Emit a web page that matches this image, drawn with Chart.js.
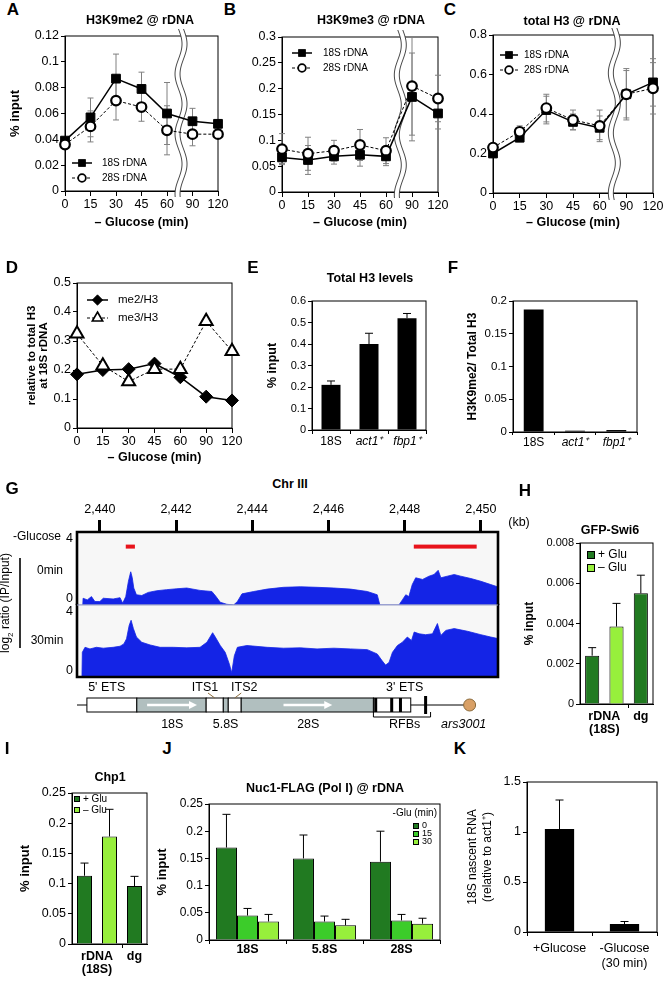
<!DOCTYPE html>
<html>
<head>
<meta charset="utf-8">
<title>rDNA heterochromatin and glucose starvation</title>
<script src="https://cdn.jsdelivr.net/npm/chart.js@4.4.1/dist/chart.umd.min.js"></script>
<style>
  html, body { margin: 0; padding: 0; background: #fff; }
  #fig { position: relative; width: 663px; height: 985px; overflow: hidden; background: #fff;
         font-family: "Liberation Sans", Arial, Helvetica, sans-serif; color: #000; }
  #fig canvas { position: absolute; }
  .t { position: absolute; white-space: nowrap; transform: translate(-50%, -50%); line-height: 1; }
</style>
</head>
<body>
<div id="fig"></div>
<script>
// ---------------- data ----------------
var timeLabels = ['0', '15', '30', '45', '60', '90', '120'];

// A: H3K9me2 @ rDNA (% input)
var me2At18S    = [0.039, 0.057, 0.087, 0.079, 0.060, 0.054, 0.052];
var me2At18SErr = [0.002, 0.015, 0.019, 0.013, 0.024, 0.010, 0.003];
var me2At28S    = [0.036, 0.050, 0.070, 0.065, 0.047, 0.044, 0.044];
var me2At28SErr = [0.002, 0.012, 0.015, 0.011, 0.019, 0.009, 0.003];

// B: H3K9me3 @ rDNA
var me3At18S    = [0.067, 0.062, 0.069, 0.072, 0.069, 0.184, 0.152];
var me3At18SErr = [0.012, 0.028, 0.015, 0.022, 0.018, 0.085, 0.030];
var me3At28S    = [0.083, 0.074, 0.080, 0.091, 0.080, 0.205, 0.181];
var me3At28SErr = [0.030, 0.032, 0.020, 0.030, 0.025, 0.095, 0.045];

// C: total H3 @ rDNA
var h3At18S    = [0.20, 0.28, 0.42, 0.36, 0.33, 0.50, 0.56];
var h3At18SErr = [0.02, 0.02, 0.07, 0.04, 0.06, 0.12, 0.12];
var h3At28S    = [0.23, 0.31, 0.43, 0.37, 0.34, 0.50, 0.53];
var h3At28SErr = [0.02, 0.03, 0.07, 0.05, 0.08, 0.13, 0.13];

// D: ratio to total H3 at 18S rDNA
var me2PerH3 = [0.185, 0.200, 0.203, 0.222, 0.175, 0.108, 0.095];
var me3PerH3 = [0.325, 0.215, 0.160, 0.203, 0.203, 0.368, 0.265];

// E, F
var h3Loci = ['18S', 'act1\u207A', 'fbp1\u207A'];
var h3Levels = [0.21, 0.40, 0.52];
var h3LevelsErr = [0.018, 0.050, 0.022];
var me2OverH3 = [0.187, 0.002, 0.003];

// G: ChIP-chip tracks, log2 ratio (IP/Input), position in kb on Chr III
var kbMin = 2439.4, kbMax = 2450.45;
var track0Kb = [2439.55, 2439.56, 2439.67, 2439.78, 2439.87, 2440.0, 2440.09, 2440.35, 2440.53, 2440.6, 2440.68,
  2440.75, 2440.81, 2440.85, 2440.89, 2440.96, 2441.1, 2441.27, 2441.49, 2441.75, 2442.02, 2442.28, 2442.63,
  2442.94, 2443.05, 2443.16, 2443.33, 2443.51, 2443.61, 2443.73, 2444.04, 2444.39, 2444.82, 2445.26, 2445.7,
  2446.14, 2446.58, 2447.02, 2447.28, 2447.35, 2447.85, 2447.94, 2448.03, 2448.11, 2448.2, 2448.29, 2448.47,
  2448.64, 2448.77, 2448.88, 2448.95, 2449.12, 2449.3, 2449.47, 2449.74, 2450.0, 2450.26, 2450.48];
var track0Val = [0, 0.37, 0.28, 0.46, 0.19, 0.19, 0.37, 0.33, 0.40, 0.10, 0.46,
  1.30, 1.82, 1.50, 0.93, 0.56, 0.52, 0.69, 0.78, 0.84, 0.89, 0.93, 0.80,
  0.74, 0.46, 0.15, 0.04, 0, 0.19, 0.61, 0.74, 0.87, 0.97, 1.00, 0.97,
  0.93, 0.87, 0.74, 0.56, 0, 0, 0.28, 0.56, 0.46, 1.12, 1.49, 1.40,
  1.58, 1.67, 1.90, 1.49, 1.58, 1.67, 1.58, 1.45, 1.30, 1.12, 0.97];
var track30Kb = [2439.53, 2439.54, 2439.61, 2439.74, 2439.91, 2440.09, 2440.35, 2440.53, 2440.63, 2440.7, 2440.77,
  2440.82, 2440.88, 2440.96, 2441.1, 2441.32, 2441.58, 2441.93, 2442.28, 2442.63, 2442.81, 2442.96, 2443.03,
  2443.16, 2443.29, 2443.4, 2443.46, 2443.53, 2443.61, 2443.86, 2444.39, 2444.82, 2445.26, 2445.7, 2446.14,
  2446.58, 2447.02, 2447.28, 2447.41, 2447.5, 2447.59, 2447.68, 2447.81, 2447.94, 2448.07, 2448.18, 2448.25,
  2448.38, 2448.55, 2448.73, 2448.86, 2448.95, 2449.08, 2449.3, 2449.65, 2450.0, 2450.26, 2450.48];
var track30Val = [0, 1.37, 1.65, 1.56, 1.65, 1.60, 1.65, 1.71, 1.84, 2.12, 2.87,
  3.15, 2.69, 2.22, 1.93, 1.78, 1.65, 1.65, 1.62, 1.65, 1.93, 2.46, 2.22,
  1.75, 1.37, 0.71, 0.24, 1.18, 1.65, 1.75, 1.65, 1.60, 1.62, 1.56, 1.60,
  1.56, 1.52, 1.28, 0.90, 0.66, 0.81, 1.37, 1.75, 1.93, 2.22, 2.03, 2.50,
  2.40, 2.35, 2.40, 2.97, 2.31, 2.59, 2.69, 2.54, 2.35, 2.22, 2.12];
var enrichedStart = [2440.68, 2448.24];
var enrichedEnd   = [2440.92, 2449.89];

// rDNA repeat map (kb)
var unitNames = ["5' ETS", '18S', 'ITS1', '5.8S', 'ITS2', '28S', "3' ETS"];
var unitStart = [2439.66, 2440.97, 2442.79, 2443.24, 2443.37, 2443.71, 2447.18];
var unitEnd   = [2440.97, 2442.79, 2443.24, 2443.37, 2443.71, 2447.18, 2448.16];
var rrnaUnits = ['18S', '5.8S', '28S'];
var arrowStart = [2441.24, 2444.82];
var arrowEnd   = [2442.55, 2446.10];
var rfbKb = [2447.24, 2447.66, 2447.89, 2448.55];
var rfbSpan = [2447.18, 2448.68];
var arsKb = 2449.6;
var aboveLabels = ["5' ETS", 'ITS1', 'ITS2', "3' ETS"];
var aboveKb = [2440.18, 2442.76, 2443.79, 2448.0];
var belowLabels = ['18S', '5.8S', '28S', 'RFBs', 'ars3001'];
var belowKb = [2441.9, 2443.3, 2445.47, 2448.0, 2449.55];

// H: GFP-Swi6, I: Chp1 (bars: rDNA +Glu, rDNA -Glu, dg +Glu)
var glucoseOf = ['+ Glu', '\u2013 Glu', '+ Glu'];
var siteGroups = [['rDNA', '(18S)'], ['dg']];
var groupOfBar = [0, 0, 1];
var swi6 = [0.0024, 0.00385, 0.0055];
var swi6Err = [0.0004, 0.00115, 0.0009];
var chp1 = [0.113, 0.178, 0.096];
var chp1Err = [0.021, 0.045, 0.016];

// J: Nuc1-FLAG
var nucSites = ['18S', '5.8S', '28S'];
var nucTimes = ['0', '15', '30'];
var nuc0 = [0.170, 0.150, 0.144];
var nuc0Err = [0.061, 0.043, 0.056];
var nuc15 = [0.045, 0.034, 0.036];
var nuc15Err = [0.013, 0.010, 0.011];
var nuc30 = [0.034, 0.027, 0.030];
var nuc30Err = [0.013, 0.011, 0.010];

// K: 18S nascent RNA
var nascentLabels = [['+Glucose'], ['-Glucose', '(30 min)']];
var nascent = [1.03, 0.08];
var nascentErr = [0.29, 0.025];

// ---------------- styles ----------------
var DARK = '#217a21', MID = '#3ccc2a', LIGHT = '#97ef3c', GREY = '#b1bfbf', BLUE = '#1424e6', RED = '#e8131b';
var FONT = '"Liberation Sans", Arial, Helvetica, sans-serif';
var breakAt = 4.55;       // where the time axis is broken (between 60 and 90)
var enrichedLevel = 3.2;  // height of the red bars in track units
var glucoseColor = { '+ Glu': DARK, '\u2013 Glu': LIGHT };

Chart.defaults.font.family = FONT;
Chart.defaults.color = '#000';
Chart.defaults.plugins.legend.display = false;
Chart.defaults.plugins.tooltip.enabled = false;

var fig = document.getElementById('fig');

function txt(x, y, s, size, weight, style, rot) {
  var d = document.createElement('div');
  d.className = 't';
  d.style.left = x + 'px';
  d.style.top = y + 'px';
  d.style.fontSize = size + 'px';
  if (weight) d.style.fontWeight = weight;
  if (style) d.style.fontStyle = style;
  if (rot) d.style.transform = 'translate(-50%,-50%) rotate(' + rot + 'deg)';
  d.innerHTML = s;
  fig.appendChild(d);
}

// place a chart so that its plot area lands on plot {l,t,r,b}
function mk(o) {
  var p = o.plot, sc = o.options.scales;
  var cv = document.createElement('canvas');
  cv.width = p.r - p.l + o.yW + o.padR;
  cv.height = p.b - p.t + o.padT + o.xH;
  cv.style.left = (p.l - o.yW) + 'px';
  cv.style.top = (p.t - o.padT) + 'px';
  fig.appendChild(cv);
  var yOn = sc.y.display !== false, xOn = sc.x.display !== false, xTop = sc.x.position === 'top';
  if (yOn) sc.y.afterFit = function (s) { s.width = o.yW; s.paddingTop = 0; s.paddingBottom = 0; };
  if (xOn) sc.x.afterFit = function (s) { s.height = xTop ? o.padT : o.xH; s.paddingLeft = 0; s.paddingRight = 0; };
  o.options.responsive = false;
  o.options.animation = false;
  o.options.layout = { padding: {
    left: yOn ? 0 : o.yW,
    right: o.padR,
    top: (xOn && xTop) ? 0 : o.padT,
    bottom: (xOn && !xTop) ? 0 : o.xH } };
  return new Chart(cv, { type: o.type, data: o.data, options: o.options, plugins: o.plugins || [] });
}

function marker(ctx, style, r, x, y, fill, stroke, lw) {
  ctx.beginPath();
  if (style === 'rect') { var s = r * Math.SQRT1_2; ctx.rect(x - s, y - s, 2 * s, 2 * s); }
  else if (style === 'rectRot') { ctx.moveTo(x, y - r); ctx.lineTo(x + r, y); ctx.lineTo(x, y + r); ctx.lineTo(x - r, y); ctx.closePath(); }
  else if (style === 'triangle') { ctx.moveTo(x, y - r); ctx.lineTo(x + r * 0.866, y + r * 0.5); ctx.lineTo(x - r * 0.866, y + r * 0.5); ctx.closePath(); }
  else ctx.arc(x, y, r, 0, 2 * Math.PI);
  ctx.fillStyle = fill; ctx.fill();
  ctx.lineWidth = lw; ctx.strokeStyle = stroke; ctx.stroke();
}

// ---------------- plugins ----------------
function framePlugin(lw) {
  return { id: 'frameP', beforeDatasetsDraw: function (c) {
    var a = c.chartArea, ctx = c.ctx;
    ctx.save(); ctx.strokeStyle = '#000'; ctx.lineWidth = lw;
    ctx.strokeRect(a.left, a.top, a.right - a.left, a.bottom - a.top);
    ctx.restore();
  } };
}

var breakPlugin = { id: 'breakP', beforeDatasetsDraw: function (c) {
  var ctx = c.ctx, a = c.chartArea, xc = c.scales.x.getPixelForValue(breakAt);
  var y0 = a.top - 7, y1 = a.bottom + 7, y;
  function wx(yy, s) { return xc + s * 2.5 + 3.5 * Math.sin((yy - y0) / 60 * 2 * Math.PI); }
  ctx.save();
  ctx.beginPath();
  for (y = y0; y <= y1; y += 2) ctx.lineTo(wx(y, -1), y);
  for (y = y1; y >= y0; y -= 2) ctx.lineTo(wx(y, 1), y);
  ctx.closePath(); ctx.fillStyle = '#fff'; ctx.fill();
  [-1, 1].forEach(function (s) {
    ctx.beginPath();
    for (y = y0; y <= y1; y += 2) ctx.lineTo(wx(y, s), y);
    ctx.strokeStyle = '#333'; ctx.lineWidth = 0.9; ctx.stroke();
  });
  ctx.restore();
} };

function errPlugin(errs, opt) {
  var hook = opt.up ? 'afterDatasetsDraw' : 'beforeDatasetsDraw';
  var p = { id: 'errP' };
  p[hook] = function (c) {
    var ctx = c.ctx, ys = c.scales.y;
    ctx.save(); ctx.strokeStyle = opt.color; ctx.lineWidth = 1;
    errs.forEach(function (err, i) {
      var meta = c.getDatasetMeta(i), data = c.data.datasets[i].data;
      meta.data.forEach(function (el, j) {
        var e = err[j]; if (e == null) return;
        var v = data[j];
        var yt = ys.getPixelForValue(v + e), yb = opt.up ? ys.getPixelForValue(v) : ys.getPixelForValue(v - e);
        ctx.beginPath();
        ctx.moveTo(el.x, yb); ctx.lineTo(el.x, yt);
        ctx.moveTo(el.x - opt.cap, yt); ctx.lineTo(el.x + opt.cap, yt);
        if (!opt.up) { ctx.moveTo(el.x - opt.cap, yb); ctx.lineTo(el.x + opt.cap, yb); }
        ctx.stroke();
      });
    });
    ctx.restore();
  };
  return p;
}

function lineLegend(L) {
  return { id: 'lineLegendP', afterDraw: function (c) {
    var ctx = c.ctx, a = c.chartArea;
    ctx.save();
    c.data.datasets.forEach(function (ds, i) {
      var x0 = a.left + L.dx, y = a.top + L.dy + i * L.gap;
      ctx.strokeStyle = '#000'; ctx.lineWidth = ds.borderWidth; ctx.setLineDash(ds.borderDash || []);
      ctx.beginPath(); ctx.moveTo(x0, y); ctx.lineTo(x0 + L.len, y); ctx.stroke();
      ctx.setLineDash([]);
      marker(ctx, ds.pointStyle, ds.pointRadius * 0.8, x0 + L.len / 2, y, ds.pointBackgroundColor, '#000', ds.pointBorderWidth * 0.8);
      ctx.fillStyle = '#000'; ctx.font = L.fs + 'px ' + FONT; ctx.textBaseline = 'middle'; ctx.textAlign = 'left';
      ctx.fillText(ds.label, x0 + L.len + L.tg, y);
    });
    ctx.restore();
  } };
}

function barLegend(labels, colors, L) {
  return { id: 'barLegendP', afterDraw: function (c) {
    var ctx = c.ctx, a = c.chartArea;
    ctx.save(); ctx.textBaseline = 'middle';
    if (L.head) {
      ctx.font = L.headFs + 'px ' + FONT; ctx.textAlign = 'right'; ctx.fillStyle = '#000';
      ctx.fillText(L.head, a.right - 3, a.top + L.headDy);
    }
    ctx.font = L.fs + 'px ' + FONT; ctx.textAlign = 'left';
    labels.forEach(function (s, i) {
      var x = a.left + L.dx, y = a.top + L.dy + i * L.gap;
      ctx.fillStyle = colors[i]; ctx.fillRect(x, y - L.box / 2, L.box, L.box);
      ctx.strokeStyle = '#000'; ctx.lineWidth = 1; ctx.strokeRect(x + 0.5, y - L.box / 2 + 0.5, L.box - 1, L.box - 1);
      ctx.fillStyle = '#000'; ctx.fillText(s, x + L.box + 3, y);
    });
    ctx.restore();
  } };
}

function groupLabels(groups, groupOf, fs, y0, lh) {
  return { id: 'groupLabelP', afterDraw: function (c) {
    var meta = c.getDatasetMeta(0), ctx = c.ctx;
    ctx.save(); ctx.font = 'bold ' + fs + 'px ' + FONT; ctx.textAlign = 'center'; ctx.textBaseline = 'middle'; ctx.fillStyle = '#000';
    groups.forEach(function (lines, g) {
      var xs = [];
      meta.data.forEach(function (el, i) { if (groupOf[i] === g) xs.push(el.x); });
      var x = (Math.min.apply(null, xs) + Math.max.apply(null, xs)) / 2;
      lines.forEach(function (s, k) { ctx.fillText(s, x, c.chartArea.bottom + y0 + k * lh); });
    });
    ctx.restore();
  } };
}

// ---------------- axes ----------------
function plainNum(v) { return String(parseFloat(Number(v).toFixed(6))); }
function yAxis(max, step, size, title) {
  return { min: 0, max: max,
    border: { color: '#000' },
    grid: { drawOnChartArea: false, tickLength: 4, color: '#000' },
    ticks: { stepSize: step, font: { size: size }, padding: 2, callback: plainNum },
    title: title || { display: false } };
}
function yTitle(text, size, pad, weight, lh) {
  return { display: true, text: text, font: { size: size, weight: weight || 'bold', lineHeight: lh || 1.2 }, padding: { top: pad, bottom: 0 } };
}
function timeAxis() {
  return { type: 'category', offset: false,
    border: { color: '#000' },
    grid: { drawOnChartArea: false, tickLength: 5, color: '#000' },
    ticks: { font: { size: 12.5 }, padding: 1.5, maxRotation: 0, autoSkip: false },
    title: { display: true, text: '\u2013 Glucose (min)', font: { size: 12.5, weight: 'bold' }, padding: { top: 0, bottom: 2.5 } } };
}
function barAxis(ticks, grid) {
  return { type: 'category', border: { color: '#000' },
    grid: Object.assign({ drawOnChartArea: false, tickLength: 4, color: '#000', offset: true }, grid || {}),
    ticks: Object.assign({ maxRotation: 0, autoSkip: false }, ticks) };
}
function groupGrid(groupOf) {
  return { color: function (c) {
    var i = c.index;
    return (i > 0 && i < groupOf.length && groupOf[i] !== groupOf[i - 1]) ? '#000' : 'rgba(0,0,0,0)';
  } };
}

// ---------------- series ----------------
function squareSeries(label, data) {
  return { label: label, data: data, order: 1, clip: false, borderColor: '#000', borderWidth: 1.5,
    pointStyle: 'rect', pointRadius: 6.2, pointBackgroundColor: '#000', pointBorderColor: '#000', pointBorderWidth: 1 };
}
function circleSeries(label, data) {
  return { label: label, data: data, order: 0, clip: false, borderColor: '#000', borderWidth: 1, borderDash: [3, 2],
    pointStyle: 'circle', pointRadius: 4.8, pointBackgroundColor: '#fff', pointBorderColor: '#000', pointBorderWidth: 2.2 };
}

function timeCourse(plot, yW, xH, padR, yax, series, errs, legend, broken) {
  var plugins = [framePlugin(1)];
  if (broken) plugins.push(breakPlugin);
  plugins.push(errPlugin(errs, { color: '#808080', cap: 3 }), lineLegend(legend));
  return mk({ plot: plot, yW: yW, xH: xH, padT: 14, padR: padR, type: 'line',
    data: { labels: timeLabels, datasets: series },
    options: { scales: { x: timeAxis(), y: yax } },
    plugins: plugins });
}

// A
timeCourse({ l: 65, t: 36, r: 218, b: 191 }, 65, 42, 14,
  yAxis(0.12, 0.02, 12.5, yTitle('% input', 13, 7.2)),
  [squareSeries('18S rDNA', me2At18S), circleSeries('28S rDNA', me2At28S)],
  [me2At18SErr, me2At28SErr], { dx: 7, dy: 127, gap: 15, len: 20, tg: 10, fs: 10 }, true);
// B
timeCourse({ l: 282, t: 37, r: 438, b: 192 }, 45, 41, 14,
  yAxis(0.3, 0.05, 12.5),
  [squareSeries('18S rDNA', me3At18S), circleSeries('28S rDNA', me3At28S)],
  [me3At18SErr, me3At28SErr], { dx: 10, dy: 16, gap: 15, len: 20, tg: 11, fs: 10 }, true);
// C
timeCourse({ l: 493, t: 35, r: 653, b: 193 }, 40, 40, 10,
  yAxis(0.8, 0.2, 12.5),
  [squareSeries('18S rDNA', h3At18S), circleSeries('28S rDNA', h3At28S)],
  [h3At18SErr, h3At28SErr], { dx: 7, dy: 20, gap: 15, len: 18, tg: 6, fs: 10 }, true);
// D
timeCourse({ l: 77, t: 283, r: 232, b: 428 }, 77, 40, 14,
  yAxis(0.5, 0.1, 12.5, yTitle(['relative to total H3', 'at 18S rDNA'], 11.5, 26.2, 'bold', 1.0)),
  [{ label: 'me2/H3', data: me2PerH3, order: 1, clip: false, borderColor: '#000', borderWidth: 1.5,
     pointStyle: 'rectRot', pointRadius: 6.5, pointBackgroundColor: '#000', pointBorderColor: '#000', pointBorderWidth: 1 },
   { label: 'me3/H3', data: me3PerH3, order: 0, clip: false, borderColor: '#000', borderWidth: 1, borderDash: [3, 2],
     pointStyle: 'triangle', pointRadius: 7.5, pointBackgroundColor: '#fff', pointBorderColor: '#000', pointBorderWidth: 2 }],
  [], { dx: 10, dy: 17, gap: 18, len: 21, tg: 10, fs: 11.5 }, false);

// E
mk({ plot: { l: 312, t: 301, r: 426, b: 430 }, yW: 50, xH: 25, padT: 10, padR: 10, type: 'bar',
  data: { labels: h3Loci, datasets: [{ data: h3Levels, backgroundColor: '#000', barPercentage: 0.5, categoryPercentage: 1 }] },
  options: { scales: {
    x: barAxis({ padding: 0.8, font: function (c) { return { size: 12, style: c.index > 0 ? 'italic' : 'normal' }; } }),
    y: yAxis(0.6, 0.1, 11, yTitle('% input', 12.5, 3.5)) } },
  plugins: [framePlugin(1), errPlugin([h3LevelsErr], { color: '#000', cap: 4, up: true })] });
// F
mk({ plot: { l: 513, t: 301, r: 637, b: 432 }, yW: 50, xH: 25, padT: 10, padR: 12, type: 'bar',
  data: { labels: h3Loci, datasets: [{ data: me2OverH3, backgroundColor: '#000', barPercentage: 0.48, categoryPercentage: 1 }] },
  options: { scales: {
    x: barAxis({ padding: 0, font: function (c) { return { size: 12, style: c.index > 0 ? 'italic' : 'normal' }; } }, { tickLength: 3 }),
    y: yAxis(0.2, 0.05, 11.5, yTitle('H3K9me2/ Total H3', 12, 2.8)) } },
  plugins: [framePlugin(1)] });

// G: tracks and map
function pairs(xs, ys) { return xs.map(function (x, i) { return { x: x, y: ys[i] }; }); }
function trackDs(xs, ys) {
  return { data: pairs(xs, ys), borderColor: BLUE, backgroundColor: BLUE, borderWidth: 0.8, pointRadius: 0, fill: 'origin', tension: 0 };
}
function kbAxis(shown) {
  return { type: 'linear', position: 'top', min: kbMin, max: kbMax, display: shown,
    border: { display: false },
    grid: { drawOnChartArea: false, tickLength: 12, tickWidth: 3, tickColor: '#000' },
    ticks: { stepSize: 2, includeBounds: false, font: { size: 12.5 }, padding: 3,
      callback: function (v) { return v.toLocaleString('en-US'); } } };
}
function trackPlugin(side) {
  return { id: 'trackP',
    beforeDatasetsDraw: function (c) {
      var a = c.chartArea, ctx = c.ctx;
      ctx.save(); ctx.fillStyle = '#f7f7f7'; ctx.fillRect(a.left, a.top, a.right - a.left, a.bottom - a.top); ctx.restore();
    },
    afterDatasetsDraw: function (c) {
      var a = c.chartArea, ctx = c.ctx, ys = c.scales.y;
      ctx.save();
      ctx.strokeStyle = '#000'; ctx.lineWidth = 2.6; ctx.lineCap = 'square';
      ctx.beginPath();
      var edge = side === 'top' ? a.top : a.bottom;
      ctx.moveTo(a.left, side === 'top' ? a.bottom : a.top); ctx.lineTo(a.left, edge); ctx.lineTo(a.right, edge);
      ctx.lineTo(a.right, side === 'top' ? a.bottom : a.top);
      ctx.stroke();
      ctx.strokeStyle = '#9aa0c8'; ctx.lineWidth = 1; ctx.lineCap = 'butt';
      var sep = side === 'top' ? a.bottom : a.top;
      ctx.beginPath(); ctx.moveTo(a.left, sep); ctx.lineTo(a.right, sep); ctx.stroke();
      ctx.fillStyle = '#000'; ctx.font = '12.5px ' + FONT; ctx.textAlign = 'right'; ctx.textBaseline = 'middle';
      ctx.fillText('4', a.left - 4, ys.getPixelForValue(4) + 7);
      ctx.fillText('0', a.left - 4, ys.getPixelForValue(0) - 6);
      if (side === 'top') {
        ctx.fillStyle = RED;
        var yr = ys.getPixelForValue(enrichedLevel);
        enrichedStart.forEach(function (s, i) {
          var x0 = c.scales.x.getPixelForValue(s), x1 = c.scales.x.getPixelForValue(enrichedEnd[i]);
          ctx.fillRect(x0, yr - 2, x1 - x0, 4);
        });
      }
      ctx.restore();
    } };
}

mk({ plot: { l: 77, t: 532, r: 498, b: 605 }, yW: 77, xH: 0, padT: 40, padR: 12, type: 'line',
  data: { datasets: [trackDs(track0Kb, track0Val)] },
  options: { scales: { x: kbAxis(true), y: { display: false, min: 0, max: 4 } } },
  plugins: [trackPlugin('top')] });
mk({ plot: { l: 77, t: 605, r: 498, b: 677 }, yW: 77, xH: 4, padT: 2, padR: 12, type: 'line',
  data: { datasets: [trackDs(track30Kb, track30Val)] },
  options: { scales: { x: kbAxis(false), y: { display: false, min: 0, max: 4 } } },
  plugins: [trackPlugin('bottom')] });

var mapPlugin = { id: 'rdnaMapP', afterDraw: function (c) {
  var ctx = c.ctx, a = c.chartArea, xs = c.scales.x;
  function X(k) { return xs.getPixelForValue(k); }
  var top = a.top + 18, h = 14, mid = top + h / 2;
  ctx.save();
  ctx.strokeStyle = '#000'; ctx.lineWidth = 1;
  ctx.beginPath(); ctx.moveTo(a.left, mid); ctx.lineTo(X(arsKb), mid); ctx.stroke();
  unitNames.forEach(function (n, i) {
    var x0 = X(unitStart[i]), x1 = X(unitEnd[i]);
    ctx.fillStyle = rrnaUnits.indexOf(n) >= 0 ? GREY : '#fff';
    ctx.fillRect(x0, top, x1 - x0, h);
    ctx.strokeRect(x0, top, x1 - x0, h);
  });
  ctx.strokeStyle = '#fff'; ctx.fillStyle = '#fff'; ctx.lineWidth = 2.5;
  arrowStart.forEach(function (s, i) {
    var x0 = X(s), x1 = X(arrowEnd[i]);
    ctx.beginPath(); ctx.moveTo(x0, mid); ctx.lineTo(x1 - 6, mid); ctx.stroke();
    ctx.beginPath(); ctx.moveTo(x1, mid); ctx.lineTo(x1 - 8, mid - 4); ctx.lineTo(x1 - 8, mid + 4); ctx.closePath(); ctx.fill();
  });
  ctx.fillStyle = '#000';
  rfbKb.forEach(function (k, i) { ctx.fillRect(X(k) - 1.5, top - (i === 3 ? 2 : 0), 3, h + (i === 3 ? 4 : 0)); });
  ctx.strokeStyle = '#000'; ctx.lineWidth = 1;
  ctx.beginPath();
  ctx.moveTo(X(rfbSpan[0]), top + h); ctx.lineTo(X(rfbSpan[0]), top + h + 5);
  ctx.lineTo(X(rfbSpan[1]), top + h + 5); ctx.lineTo(X(rfbSpan[1]), top + h);
  ctx.stroke();
  marker(ctx, 'circle', 6, X(arsKb) + 4, mid, '#d9a066', '#8a6a3a', 1);
  ctx.font = '12.5px ' + FONT; ctx.textAlign = 'center'; ctx.textBaseline = 'middle'; ctx.fillStyle = '#000';
  aboveLabels.forEach(function (s, i) {
    ctx.fillText(s, X(aboveKb[i]), a.top + 8);
    var u = unitNames.indexOf(s);
    if (s.indexOf('ITS') === 0 && u >= 0) {
      ctx.beginPath(); ctx.moveTo(X(aboveKb[i]) + (s === 'ITS1' ? 3 : -3), a.top + 13);
      ctx.lineTo(X((unitStart[u] + unitEnd[u]) / 2), top); ctx.stroke();
    }
  });
  belowLabels.forEach(function (s, i) {
    ctx.font = (s.indexOf('ars') === 0 ? 'italic ' : '') + '12.5px ' + FONT;
    ctx.fillText(s, X(belowKb[i]), a.top + 45);
  });
  ctx.restore();
} };
mk({ plot: { l: 77, t: 680, r: 498, b: 735 }, yW: 77, xH: 0, padT: 0, padR: 50, type: 'line',
  data: { datasets: [] },
  options: { scales: { x: kbAxis(false), y: { display: false, min: 0, max: 1 } } },
  plugins: [mapPlugin] });

// H
var glucoseNames = ['+ Glu', '\u2013 Glu'];
mk({ plot: { l: 580, t: 543, r: 653, b: 704 }, yW: 60, xH: 35, padT: 10, padR: 8, type: 'bar',
  data: { labels: glucoseOf, datasets: [{ data: swi6, backgroundColor: glucoseOf.map(function (g) { return glucoseColor[g]; }),
    borderColor: '#000', borderWidth: 1, barPercentage: 0.58, categoryPercentage: 1 }] },
  options: { scales: { x: barAxis({ display: false }, groupGrid(groupOfBar)), y: yAxis(0.008, 0.002, 11, yTitle('% input', 12, 2.8)) } },
  plugins: [framePlugin(1), errPlugin([swi6Err], { color: '#000', cap: 4, up: true }),
    groupLabels(siteGroups, groupOfBar, 12.5, 13, 13),
    barLegend(glucoseNames, glucoseNames.map(function (g) { return glucoseColor[g]; }), { dx: 7, dy: 12, gap: 13, box: 8, fs: 12 })] });

// I
mk({ plot: { l: 72, t: 793, r: 147, b: 944 }, yW: 72, xH: 36, padT: 10, padR: 8, type: 'bar',
  data: { labels: glucoseOf, datasets: [{ data: chp1, backgroundColor: glucoseOf.map(function (g) { return glucoseColor[g]; }),
    borderColor: '#000', borderWidth: 1, barPercentage: 0.6, categoryPercentage: 1 }] },
  options: { scales: { x: barAxis({ display: false }, groupGrid(groupOfBar)), y: yAxis(0.25, 0.05, 12.5, yTitle('% input', 13, 17.2)) } },
  plugins: [framePlugin(1), errPlugin([chp1Err], { color: '#000', cap: 4, up: true }),
    groupLabels(siteGroups, groupOfBar, 12.5, 13, 13),
    barLegend(glucoseNames, glucoseNames.map(function (g) { return glucoseColor[g]; }), { dx: 2, dy: 6, gap: 11, box: 6, fs: 10 })] });

// J
function nucDs(d, col) { return { data: d, backgroundColor: col, borderColor: '#000', borderWidth: 1, barPercentage: 1, categoryPercentage: 0.82 }; }
mk({ plot: { l: 209, t: 804, r: 440, b: 940 }, yW: 58, xH: 22, padT: 10, padR: 8, type: 'bar',
  data: { labels: nucSites, datasets: [nucDs(nuc0, DARK), nucDs(nuc15, MID), nucDs(nuc30, LIGHT)] },
  options: { scales: { x: barAxis({ padding: -2, font: { size: 12.5, weight: 'bold' } }), y: yAxis(0.25, 0.05, 12, yTitle('% input', 13, 3.2)) } },
  plugins: [framePlugin(1), errPlugin([nuc0Err, nuc15Err, nuc30Err], { color: '#000', cap: 4, up: true }),
    barLegend(nucTimes, [DARK, MID, LIGHT], { dx: 204, dy: 22, gap: 8, box: 6, fs: 9, head: '-Glu (min)', headFs: 10, headDy: 9 })] });

// K
mk({ plot: { l: 527, t: 782, r: 657, b: 932 }, yW: 64, xH: 45, padT: 12, padR: 5, type: 'bar',
  data: { labels: nascentLabels, datasets: [{ data: nascent, backgroundColor: '#000', barPercentage: 0.45, categoryPercentage: 1 }] },
  options: { scales: { x: barAxis({ padding: 5.5, font: { size: 12.5 } }),
    y: yAxis(1.5, 0.5, 12.5, yTitle(['18S nascent RNA', '(relative to act1\u207A)'], 12, 2.5, 'normal', 1.25)) } },
  plugins: [framePlugin(1), errPlugin([nascentErr], { color: '#000', cap: 4, up: true })] });

// ---------------- text ----------------
[['A', 13, 9], ['B', 230, 9], ['C', 450, 9], ['D', 12, 267], ['E', 253, 267], ['F', 453, 267],
 ['G', 12, 488], ['H', 525, 490], ['I', 7, 748], ['J', 167, 748], ['K', 460, 748]].forEach(function (l) {
  txt(l[1], l[2], l[0], 17, 'bold');
});
txt(140, 20, 'H3K9me2 @ rDNA', 12.5, 'bold');
txt(371, 20, 'H3K9me3 @ rDNA', 12.5, 'bold');
txt(572, 21, 'total H3 @ rDNA', 12.5, 'bold');
txt(370, 278, 'Total H3 levels', 12.5, 'bold');
txt(290, 484, 'Chr III', 12.5, 'bold');
txt(610, 530, 'GFP-Swi6', 12.5, 'bold');
txt(110, 777, 'Chp1', 12.5, 'bold');
txt(325, 788, 'Nuc1-FLAG (Pol I) @ rDNA', 12.5, 'bold');
txt(519, 522, '(kb)', 12.5);
txt(37, 536, '-Glucose', 12);
txt(50, 570, '0min', 12);
txt(47, 640, '30min', 12);
txt(7, 603, 'log<sub style="font-size:8px">2</sub> ratio (IP/Input)', 12, null, null, -90);
var vline = document.createElement('div');
vline.style.cssText = 'position:absolute;left:19px;top:558px;width:1.5px;height:90px;background:#333;';
fig.appendChild(vline);
</script>
</body>
</html>
